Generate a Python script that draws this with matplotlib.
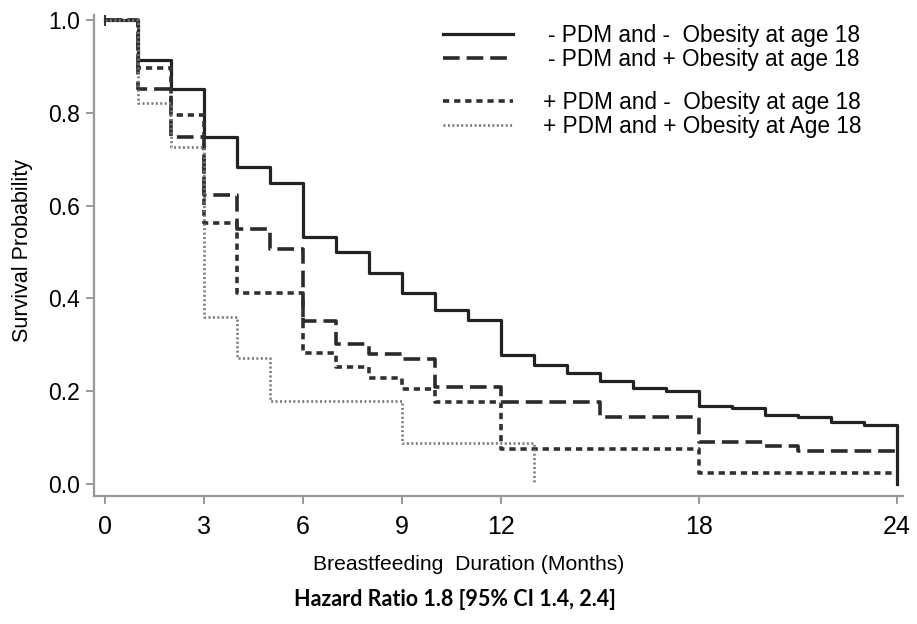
import matplotlib
matplotlib.use("Agg")
import matplotlib.pyplot as plt
import numpy as np

plt.rcParams['font.family'] = ['Liberation Sans', 'DejaVu Sans']
plt.rcParams['lines.scale_dashes'] = False

# Kaplan-Meier steps: value holds from each time until the next one
t_nn = [0, 1, 2, 3, 4, 5, 6, 7, 8, 9, 10, 11, 12, 13, 14, 15, 16, 17, 18, 19, 20, 21, 22, 23, 24, 24]
s_nn = [1.0, 0.914, 0.851, 0.748, 0.683, 0.649, 0.532, 0.50, 0.455, 0.412, 0.375, 0.353, 0.278,
        0.256, 0.239, 0.222, 0.207, 0.200, 0.168, 0.164, 0.149, 0.144, 0.134, 0.127, 0.127, 0.0]

t_np = [0, 1, 2, 3, 4, 5, 6, 7, 8, 9, 10, 12, 15, 18, 20, 21, 24]
s_np = [1.0, 0.851, 0.748, 0.623, 0.550, 0.506, 0.352, 0.302, 0.280, 0.269, 0.209, 0.177,
        0.144, 0.091, 0.082, 0.071, 0.071]

t_pn = [0, 1, 2, 3, 4, 6, 7, 8, 9, 10, 12, 18, 24]
s_pn = [1.0, 0.897, 0.795, 0.563, 0.412, 0.282, 0.252, 0.228, 0.205, 0.177, 0.076, 0.024, 0.024]

t_pp = [0, 1, 2, 3, 4, 5, 9, 13, 13]
s_pp = [1.0, 0.821, 0.726, 0.360, 0.272, 0.179, 0.088, 0.088, 0.0]

labels = ["- PDM and -  Obesity at age 18",
          "- PDM and + Obesity at age 18",
          "+ PDM and -  Obesity at age 18",
          "+ PDM and + Obesity at Age 18"]

x_ticks = [0, 3, 6, 9, 12, 18, 24]
y_ticks = [0.0, 0.2, 0.4, 0.6, 0.8, 1.0]

fig = plt.figure(figsize=(9.17, 6.24), dpi=100)
ax = fig.add_axes([0.1025, 0.2051, 0.8822, 0.7708])

l1, = ax.step(t_nn, s_nn, where='post', color='#222222', lw=2.3, linestyle='-')
l2, = ax.step(t_np, s_np, where='post', color='#2a2a2a', lw=2.6, dashes=(12, 5))
l3, = ax.step(t_pn, s_pn, where='post', color='#303030', lw=2.6, dashes=(4.5, 3.5))
l4, = ax.step(t_pp, s_pp, where='post', color='#777777', lw=1.9, dashes=(1.4, 1.8))
ax.plot([0], [1.0], marker='|', color='#333333', markersize=8, mew=1.5)

ax.set_xlim(-0.333, 24.18)
ax.set_ylim(-0.026, 1.011)
ax.set_xticks(x_ticks)
ax.set_yticks(y_ticks)
ax.set_yticklabels([f"{v:.1f}" for v in y_ticks], fontsize=16.5)
ax.set_xticklabels([str(v) for v in x_ticks], fontsize=18,
                   family=['Liberation Sans Narrow', 'Liberation Sans'])

for side in ['top', 'right']:
    ax.spines[side].set_visible(False)
for side in ['left', 'bottom']:
    ax.spines[side].set_color('#999999')
    ax.spines[side].set_linewidth(1.6)
ax.tick_params(axis='y', length=6, width=1.4, color='#999999', pad=4)
ax.tick_params(axis='x', length=6, width=1.4, color='#999999', pad=8)

fig.text(23 / 917, 1 - 250 / 624, "Survival Probability", rotation=90,
         ha='center', va='center', fontsize=15.5)
fig.text(469 / 917, 1 - 565 / 624, "Breastfeeding  Duration (Months)",
         ha='center', va='center', fontsize=15.2)
fig.text(455 / 917, 1 - 600 / 624, "Hazard Ratio 1.8 [95% CI 1.4, 2.4]",
         ha='center', va='center', fontsize=15.5, fontweight='bold',
         family=['Lato', 'Liberation Sans'])

leg1 = ax.legend([l1, l2], labels[:2], loc='upper left', bbox_to_anchor=(443 / 917, 1 - 24 / 624),
                 bbox_transform=fig.transFigure, frameon=False, fontsize=16.3,
                 handlelength=3.1, handletextpad=1.55, labelspacing=0.05,
                 borderpad=0, borderaxespad=0)
ax.add_artist(leg1)
ax.legend([l3, l4], labels[2:], loc='upper left', bbox_to_anchor=(443 / 917, 1 - 91 / 624),
          bbox_transform=fig.transFigure, frameon=False, fontsize=16.3,
          handlelength=3.1, handletextpad=1.3, labelspacing=0.05,
          borderpad=0, borderaxespad=0)

fig.savefig("out.png", dpi=100)
